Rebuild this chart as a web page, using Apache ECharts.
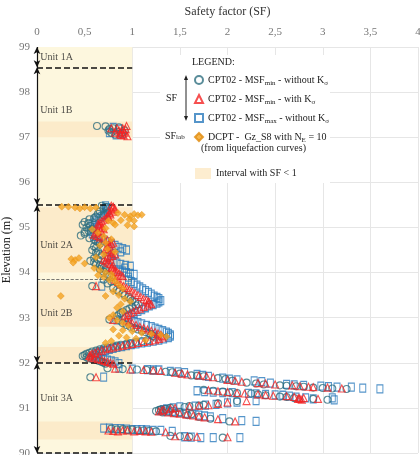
<!DOCTYPE html>
<html>
<head>
<meta charset="utf-8">
<script src="https://cdn.jsdelivr.net/npm/echarts@6/dist/echarts.min.js"></script>
<style>
  html, body { margin: 0; padding: 0; background: #fff; }
  #chart { width: 420px; height: 455px; }
</style>
</head>
<body>
<div id="chart"></div>
<script>
// [SF, elevation]
var msfMinNoK = [
  [0.63,97.25],[0.72,97.24],[0.75,97.15],[0.78,97.1],[0.8,97.2],[0.84,97.12],[0.88,97.08],[0.92,97.15],
  [0.76,97.18],[0.82,97.06],[0.86,97.22],[0.9,97.1],
  [0.68,95.48],[0.7,95.42],[0.66,95.36],[0.64,95.3],[0.62,95.24],[0.55,95.18],[0.5,95.12],[0.48,95.06],[0.52,95.0],[0.58,94.96],
  [0.5,94.9],[0.46,94.82],[0.55,94.76],[0.62,94.7],[0.66,94.64],[0.6,94.58],[0.58,94.5],[0.62,94.44],[0.68,94.38],[0.6,94.32],
  [0.56,94.26],[0.62,94.2],[0.68,94.14],[0.66,94.08],[0.7,94.02],[0.74,93.96],[0.78,93.9],
  [0.72,95.45],[0.74,95.33],[0.7,95.27],[0.6,95.21],[0.54,95.09],[0.56,95.03],[0.54,94.93],[0.5,94.86],[0.6,94.73],[0.64,94.67],
  [0.62,94.55],[0.64,94.47],[0.66,94.41],[0.64,94.29],[0.6,94.23],[0.66,94.17],[0.7,94.11],[0.72,94.05],[0.76,93.93],
  [0.7,93.84],[0.58,93.7],[0.74,93.76],[0.8,93.66],[0.86,93.58],[0.92,93.5],[0.98,93.42],[1.03,93.35],[1.06,93.3],[1.0,93.24],
  [0.94,93.17],[0.88,93.1],[0.84,93.03],[0.76,92.96],[0.86,92.94],[0.9,92.88],[0.98,92.8],[1.06,92.74],[1.14,92.68],[1.2,92.62],
  [1.24,92.56],[1.16,92.5],[1.04,92.46],[0.94,92.42],[0.84,92.38],[0.74,92.34],[0.66,92.3],[0.58,92.25],[0.52,92.2],[0.48,92.15],
  [0.54,92.1],[0.62,92.06],[0.68,92.02],[0.72,91.98],
  [0.78,93.8],[0.84,93.62],[0.9,93.54],[0.96,93.46],[1.0,93.38],[1.04,93.27],[0.97,93.2],[0.9,93.13],[0.86,93.07],[0.94,92.84],
  [1.02,92.77],[1.1,92.71],[1.18,92.65],[1.22,92.59],[1.1,92.48],[0.98,92.44],[0.88,92.4],[0.8,92.36],[0.7,92.32],[0.62,92.27],
  [0.55,92.22],[0.5,92.17],[0.52,92.12],[0.58,92.08],[0.65,92.04],[0.7,92.0],
  [0.56,91.68],[0.74,91.88],[0.9,91.86],[1.05,91.85],[1.22,91.83],[1.35,91.8],[1.5,91.76],[1.62,91.72],[1.75,91.7],[1.9,91.66],
  [2.05,91.6],[2.2,91.56],[2.38,91.52],[2.55,91.5],[2.72,91.48],[2.9,91.45],[3.1,91.43],[3.25,91.42],
  [1.15,91.84],[1.42,91.79],[1.68,91.71],[1.98,91.64],[2.3,91.54],[2.62,91.49],[2.8,91.47],[3.0,91.44],
  [1.75,91.4],[1.95,91.36],[2.1,91.33],[2.25,91.32],[2.4,91.28],[2.55,91.25],[2.7,91.22],[2.9,91.2],[3.05,91.18],
  [1.85,91.38],[2.02,91.34],[2.32,91.3],[2.62,91.24],
  [2.1,91.15],[1.9,91.1],[1.7,91.05],[1.55,91.02],[1.4,91.0],[1.3,90.97],[1.25,90.93],[1.32,90.9],[1.45,90.88],[1.58,90.84],
  [1.7,90.8],[1.82,90.76],[2.02,90.7],
  [1.35,90.98],[1.28,90.95],[1.38,90.92],[1.5,90.9],[1.62,90.86],[1.75,91.07],[1.6,91.04],
  [0.78,90.54],[0.9,90.53],[1.0,90.52],[1.12,90.5],[1.25,90.48],[1.4,90.38],[1.6,90.36],[1.95,90.34],
  [0.84,90.52],[0.95,90.51],[1.06,90.5],[1.18,90.49],[1.5,90.37]
];
var msfMinK = [
  [0.78,97.2],[0.82,97.1],[0.86,97.15],[0.88,97.05],[0.9,97.2],[0.92,97.1],[0.94,97.25],[0.95,97.02],
  [0.84,97.2],[0.87,97.08],[0.91,97.04],[0.93,97.18],[0.89,97.12],
  [0.78,95.48],[0.8,95.44],[0.78,95.38],[0.76,95.32],[0.74,95.26],[0.72,95.2],[0.68,95.14],[0.64,95.08],[0.66,95.02],[0.7,94.96],
  [0.64,94.9],[0.6,94.84],[0.66,94.78],[0.74,94.72],[0.8,94.66],[0.76,94.6],[0.72,94.52],[0.76,94.46],[0.82,94.4],[0.76,94.34],
  [0.7,94.28],[0.74,94.22],[0.8,94.16],[0.78,94.1],[0.82,94.04],[0.86,93.98],[0.9,93.92],
  [0.8,95.46],[0.82,95.41],[0.8,95.35],[0.77,95.29],[0.75,95.23],[0.7,95.17],[0.66,95.11],[0.65,95.05],[0.68,94.99],[0.67,94.93],
  [0.62,94.87],[0.63,94.81],[0.7,94.75],[0.77,94.69],[0.78,94.63],[0.74,94.56],[0.74,94.49],[0.79,94.43],[0.79,94.37],[0.73,94.31],
  [0.72,94.25],[0.77,94.19],[0.79,94.13],[0.8,94.07],[0.84,94.01],[0.88,93.95],
  [0.62,93.7],[0.82,93.84],[0.88,93.74],[0.94,93.66],[1.0,93.58],[1.06,93.5],[1.12,93.42],[1.17,93.36],[1.2,93.3],[1.12,93.24],
  [1.04,93.17],[0.98,93.1],[0.92,93.03],[0.8,92.95],[0.94,92.94],[1.0,92.88],[1.08,92.8],[1.16,92.74],[1.24,92.68],[1.3,92.62],
  [1.32,92.56],[1.24,92.5],[1.12,92.46],[1.0,92.42],[0.9,92.38],[0.8,92.34],[0.72,92.3],[0.64,92.25],[0.58,92.2],[0.55,92.15],
  [0.6,92.1],[0.68,92.06],[0.74,92.02],[0.8,91.98],
  [0.85,93.79],[0.91,93.7],[0.97,93.62],[1.03,93.54],[1.09,93.46],[1.15,93.39],[1.18,93.33],[1.16,93.27],[1.08,93.2],[1.01,93.13],
  [0.95,93.06],[0.97,92.91],[1.04,92.84],[1.12,92.77],[1.2,92.71],[1.27,92.65],[1.31,92.59],[1.28,92.53],[1.18,92.48],[1.06,92.44],
  [0.95,92.4],[0.85,92.36],[0.76,92.32],[0.68,92.27],[0.61,92.22],[0.56,92.17],[0.57,92.12],[0.64,92.08],[0.71,92.04],[0.77,92.0],
  [0.62,91.68],[0.82,91.87],[0.98,91.85],[1.12,91.84],[1.3,91.82],[1.45,91.78],[1.58,91.74],[1.7,91.72],[1.85,91.68],[2.0,91.62],
  [2.15,91.58],[2.32,91.55],[2.5,91.52],[2.68,91.5],[2.85,91.47],[3.05,91.45],[3.2,91.43],
  [1.22,91.83],[1.52,91.76],[1.78,91.7],[2.08,91.6],[2.4,91.54],[2.76,91.48],[2.9,91.46],
  [1.8,91.39],[2.0,91.35],[2.18,91.32],[2.32,91.3],[2.48,91.27],[2.62,91.26],[2.75,91.22],[2.76,91.2],[2.78,91.18],[2.95,91.2],
  [1.9,91.37],[2.1,91.33],[2.4,91.28],[2.7,91.24],[2.74,91.2],[2.8,91.22],
  [2.2,91.15],[2.0,91.12],[1.8,91.06],[1.6,91.03],[1.45,91.0],[1.33,90.96],[1.28,90.92],[1.38,90.9],[1.5,90.87],[1.64,90.83],
  [1.76,90.79],[1.9,90.75],[2.08,90.7],
  [1.4,90.98],[1.31,90.94],[1.44,90.88],[1.57,90.85],[1.7,90.81],[1.9,91.09],[1.7,91.05],
  [0.75,90.5],[0.85,90.48],[0.95,90.5],[1.08,90.49],[1.2,90.47],[1.35,90.46],[1.45,90.37],[1.68,90.36],[2.0,90.35],
  [0.8,90.49],[0.9,90.5],[1.02,90.48],[1.14,90.48],[1.58,90.36]
];
var msfMaxNoK = [
  [0.76,97.1],[0.8,97.22],[0.83,97.05],[0.86,97.18],[0.9,97.08],
  [0.72,95.48],[0.74,95.4],[0.72,95.32],[0.68,95.24],[0.62,95.16],[0.58,95.08],[0.62,95.0],[0.56,94.92],[0.6,94.8],[0.7,94.72],
  [0.78,94.64],[0.86,94.56],[0.94,94.5],[0.82,94.42],[0.74,94.34],[0.8,94.24],[0.88,94.18],[0.98,94.14],[0.86,94.06],[0.94,94.0],
  [1.02,93.96],[0.96,93.9],
  [0.73,95.44],[0.73,95.36],[0.7,95.28],[0.65,95.2],[0.6,95.12],[0.6,95.04],[0.59,94.96],[0.58,94.86],[0.65,94.76],[0.74,94.68],
  [0.82,94.6],[0.9,94.53],[0.88,94.46],[0.78,94.38],[0.77,94.29],[0.84,94.21],[0.93,94.16],[0.92,94.1],[0.9,94.03],[0.98,93.98],
  [0.68,93.7],[0.96,93.84],[1.02,93.76],[1.08,93.68],[1.14,93.6],[1.2,93.52],[1.26,93.45],[1.3,93.38],[1.26,93.32],[1.18,93.26],
  [1.1,93.18],[1.02,93.1],[0.96,93.02],[0.84,92.95],[1.02,92.92],[1.1,92.86],[1.2,92.8],[1.28,92.74],[1.36,92.68],[1.4,92.62],
  [1.38,92.56],[1.28,92.5],[1.16,92.46],[1.04,92.42],[0.94,92.38],[0.84,92.34],[0.76,92.3],[0.68,92.25],[0.62,92.2],[0.6,92.15],
  [0.66,92.1],[0.74,92.06],[0.82,92.02],[0.86,91.98],
  [0.99,93.8],[1.05,93.72],[1.11,93.64],[1.17,93.56],[1.23,93.48],[1.28,93.42],[1.28,93.35],[1.22,93.29],[1.14,93.22],[1.06,93.14],
  [0.99,93.06],[1.06,92.89],[1.15,92.83],[1.24,92.77],[1.32,92.71],[1.38,92.65],[1.4,92.59],[1.33,92.53],[1.22,92.48],[1.1,92.44],
  [0.99,92.4],[0.89,92.36],[0.8,92.32],[0.72,92.27],[0.65,92.22],[0.61,92.17],[0.63,92.12],[0.7,92.08],[0.78,92.04],
  [0.7,91.68],[0.86,91.88],[1.0,91.86],[1.16,91.85],[1.28,91.84],[1.4,91.81],[1.55,91.78],[1.68,91.74],[1.8,91.7],[1.95,91.66],
  [2.1,91.62],[2.28,91.6],[2.45,91.55],[2.62,91.52],[2.8,91.5],[2.98,91.48],[3.15,91.46],[3.3,91.46],[3.42,91.44],[3.6,91.42],
  [1.22,91.84],[1.48,91.8],[1.74,91.72],[2.02,91.64],[2.36,91.58],[2.7,91.51],[3.06,91.47],
  [1.68,91.38],[1.85,91.35],[2.05,91.34],[2.22,91.32],[2.4,91.3],[2.58,91.28],[2.72,91.24],[2.82,91.22],[2.9,91.2],[3.1,91.22],[3.12,91.18],
  [1.76,91.36],[1.95,91.34],[2.3,91.31],[2.5,91.29],[2.65,91.26],
  [2.3,91.16],[2.1,91.13],[1.88,91.08],[1.66,91.04],[1.5,91.02],[1.36,90.98],[1.3,90.94],[1.42,90.92],[1.56,90.88],[1.7,90.84],
  [1.82,90.8],[1.95,90.76],[2.15,90.72],[2.3,90.7],
  [1.43,91.0],[1.33,90.96],[1.36,90.93],[1.49,90.9],[1.63,90.86],[1.76,90.82],[2.0,91.11],[1.77,91.06],
  [0.7,90.55],[0.82,90.54],[0.94,90.53],[1.05,90.52],[1.15,90.51],[1.3,90.5],[1.42,90.48],[1.55,90.36],[1.72,90.34],[1.85,90.34],
  [0.76,90.55],[0.88,90.54],[1.0,90.52],[1.1,90.52],[1.22,90.5],[1.62,90.35],[2.13,90.34]
];
var dcptGzS8 = [
  [0.26,95.46],[0.33,95.46],[0.4,95.44],[0.45,95.42],[0.5,95.45],[0.56,95.42],[0.62,95.44],
  [0.85,95.32],[0.92,95.28],[0.98,95.25],[1.02,95.3],[1.06,95.27],[1.1,95.28],[0.97,95.18],[1.02,95.15],[0.88,95.16],
  [0.8,95.1],[0.75,95.15],[0.82,95.06],[0.95,95.05],[1.02,95.02],[0.72,94.98],
  [0.58,94.96],[0.64,94.88],[0.7,94.8],[0.78,94.74],[0.72,94.66],[0.66,94.6],[0.74,94.52],[0.82,94.46],[0.7,94.4],[0.62,94.34],
  [0.36,94.3],[0.4,94.28],[0.44,94.32],[0.38,94.22],[0.5,94.2],
  [0.6,94.1],[0.66,94.05],[0.72,94.0],[0.78,93.96],[0.64,93.94],[0.7,93.9],[0.8,93.88],[0.76,93.84],
  [0.25,93.48],[0.72,93.48],[0.82,93.8],[0.86,93.72],[0.9,93.64],[0.8,93.58],[0.86,93.5],[0.92,93.42],[0.98,93.36],[0.88,93.3],
  [0.84,93.22],[0.9,93.14],[0.8,93.06],[0.76,93.0],[0.84,92.94],[0.9,92.88],[0.96,92.82],[0.8,92.74],[0.9,92.72],[1.0,92.7],
  [1.1,92.66],[1.2,92.64],[1.3,92.62],[1.36,92.58],[0.86,92.6],[0.94,92.56],[1.04,92.54],[1.14,92.5],[0.78,92.48],[0.72,92.44]
];

var unitNames = ['Unit 1A', 'Unit 1B', 'Unit 2A', 'Unit 2B', 'Unit 3A'];
var unitLabelElev = [98.78, 97.6, 94.6, 93.1, 91.2];
var boundaries = [98.55, 95.5, 92, 90];      // thick dashed
var subBoundaries = [93.85];                 // thin dashed
var arrowSpans = [[99, 98.55], [98.55, 95.5], [95.5, 92], [92, 90]];
var sfBands = [[97.0, 97.35], [94.0, 95.45], [92.8, 93.8], [92.0, 92.35], [90.3, 90.7]];

var serif = '"Liberation Serif", "DejaVu Serif", serif';
var teal = '#2f6f7f', red = '#f42323', blue = '#2b7bbd', orange = '#f4a21f';

var chart = echarts.init(document.getElementById('chart'));

var boundaryLines = [];
boundaries.forEach(function (e) {
  boundaryLines.push([{ coord: [0, e] }, { coord: [1, e] }]);
});
subBoundaries.forEach(function (e) {
  boundaryLines.push([{ coord: [0, e], lineStyle: { width: 0.8, color: '#555' } }, { coord: [1, e] }]);
});
arrowSpans.forEach(function (s) {
  boundaryLines.push([
    { coord: [0, s[0]], symbol: 'arrow', symbolSize: [5, 7], lineStyle: { type: 'solid', width: 1.2 } },
    { coord: [0, s[1]], symbol: 'arrow', symbolSize: [5, 7] }
  ]);
});

var legendText = {
  'msfMinNoK': 'CPT02 - MSF{sub|min} - without K{sub|σ}',
  'msfMinK': 'CPT02 - MSF{sub|min} - with K{sub|σ}',
  'msfMaxNoK': 'CPT02 - MSF{sub|max} - without K{sub|σ}',
  'dcpt': 'DCPT -  Gz_S8 with N{sub|E} = 10',
  'band': 'Interval with SF < 1'
};
var richText = {
  sub: { fontSize: 7, lineHeight: 6, verticalAlign: 'bottom', fontFamily: serif, color: '#222' }
};

var option = {
  animation: false,
  grid: { left: 37, right: 2, top: 47, bottom: 2, outerBoundsMode: 'none' },
  xAxis: {
    type: 'value', position: 'top', min: 0, max: 4, interval: 0.5,
    name: 'Safety factor (SF)', nameLocation: 'middle', nameGap: 29, nameMoveOverlap: false,
    nameTextStyle: { fontFamily: serif, fontSize: 12, color: '#333' },
    axisLine: { show: false }, axisTick: { show: false },
    axisLabel: {
      margin: 9, fontFamily: serif, fontSize: 11, color: '#777',
      formatter: function (v) { return String(v).replace('.', ','); }
    },
    splitLine: { lineStyle: { color: '#e6e6e6' } }
  },
  yAxis: {
    type: 'value', min: 90, max: 99, interval: 1,
    name: 'Elevation (m)', nameLocation: 'middle', nameGap: 24, nameRotate: 90, nameMoveOverlap: false,
    nameTextStyle: { fontFamily: serif, fontSize: 12, color: '#222' },
    axisLine: { show: false }, axisTick: { show: false },
    axisLabel: { margin: 7, fontFamily: serif, fontSize: 11, color: '#777' },
    splitLine: { lineStyle: { color: '#e6e6e6' } }
  },
  legend: [{
    orient: 'vertical', left: 189, top: 68, itemWidth: 8, itemHeight: 8, itemGap: 5,
    data: ['msfMinNoK', 'msfMinK', 'msfMaxNoK', 'dcpt'],
    formatter: function (n) { return legendText[n]; },
    textStyle: { fontFamily: serif, fontSize: 10, lineHeight: 14, color: '#222', rich: richText },
    selectedMode: false
  }, {
    orient: 'vertical', left: 190, top: 163, itemWidth: 16, itemHeight: 11, itemGap: 5,
    data: [{ name: 'band', icon: 'rect' }],
    formatter: function (n) { return legendText[n]; },
    textStyle: { fontFamily: serif, fontSize: 10, color: '#222' },
    selectedMode: false
  }],
  graphic: [
    { type: 'rect', left: 160, top: 55, z: 1, shape: { width: 170, height: 128 }, style: { fill: '#fff' } },
    { type: 'text', left: 192, top: 57, z: 5, style: { text: 'LEGEND:', fontFamily: serif, fontSize: 10, fill: '#222' } },
    { type: 'line', z: 5, shape: { x1: 186, y1: 79, x2: 186, y2: 117 }, style: { stroke: '#222', lineWidth: 1 } },
    { type: 'polygon', z: 5, shape: { points: [[186, 75], [184, 80], [188, 80]] }, style: { fill: '#222' } },
    { type: 'polygon', z: 5, shape: { points: [[186, 121], [184, 116], [188, 116]] }, style: { fill: '#222' } },
    { type: 'text', left: 166, top: 93, z: 5, style: { text: 'SF', fontFamily: serif, fontSize: 10, fill: '#222' } },
    { type: 'text', left: 165, top: 131, z: 5, style: {
        text: 'SF{s|lab}', fontFamily: serif, fontSize: 10, fill: '#222',
        rich: { s: { fontSize: 7, lineHeight: 6, verticalAlign: 'bottom', fontFamily: serif, fill: '#222' } } } },
    { type: 'text', left: 201, top: 143, z: 5, style: { text: '(from liquefaction curves)', fontFamily: serif, fontSize: 10, fill: '#222' } }
  ],
  series: [
    {
      name: 'column', type: 'scatter', data: [], silent: true, z: 0,
      markArea: {
        silent: true,
        itemStyle: { color: '#fdf7de' },
        data: [[{ coord: [0, 90] }, { coord: [1, 99] }]]
      }
    },
    {
      name: 'band', type: 'scatter', data: [], silent: true, z: 0,
      itemStyle: { color: '#fde8c4' },
      markArea: {
        silent: true,
        itemStyle: { color: '#fcebca' },
        data: sfBands.map(function (b) { return [{ coord: [0, b[0]] }, { coord: [1, b[1]] }]; })
      }
    },
    {
      name: 'msfMaxNoK', type: 'scatter', data: msfMaxNoK, symbol: 'rect', symbolSize: [6, 8],
      itemStyle: { color: 'rgba(255,255,255,0)', borderColor: blue, borderWidth: 1.1 }, z: 3
    },
    {
      name: 'msfMinNoK', type: 'scatter', data: msfMinNoK, symbol: 'circle', symbolSize: 7,
      itemStyle: { color: 'rgba(255,255,255,0)', borderColor: teal, borderWidth: 1.1 }, z: 4
    },
    {
      name: 'msfMinK', type: 'scatter', data: msfMinK, symbol: 'triangle', symbolSize: 7,
      itemStyle: { color: 'rgba(255,255,255,0)', borderColor: red, borderWidth: 1.1 }, z: 5
    },
    {
      name: 'dcpt', type: 'scatter', data: dcptGzS8, symbol: 'diamond', symbolSize: 7,
      itemStyle: { color: orange, borderColor: '#e08a0c', borderWidth: 0.5 }, z: 6
    },
    {
      name: 'units', type: 'scatter', silent: true, clip: false, z: 7,
      symbolSize: 1, itemStyle: { color: 'rgba(0,0,0,0)' },
      data: unitNames.map(function (n, i) { return { name: n, value: [0.03, unitLabelElev[i]] }; }),
      label: { show: true, position: 'right', distance: 0, formatter: '{b}', fontFamily: serif, fontSize: 10, color: '#222' },
      markLine: {
        silent: true, symbol: ['none', 'none'], label: { show: false },
        lineStyle: { type: 'dashed', color: '#111', width: 1.5 },
        data: boundaryLines
      }
    }
  ]
};
chart.setOption(option);
</script>
</body>
</html>
